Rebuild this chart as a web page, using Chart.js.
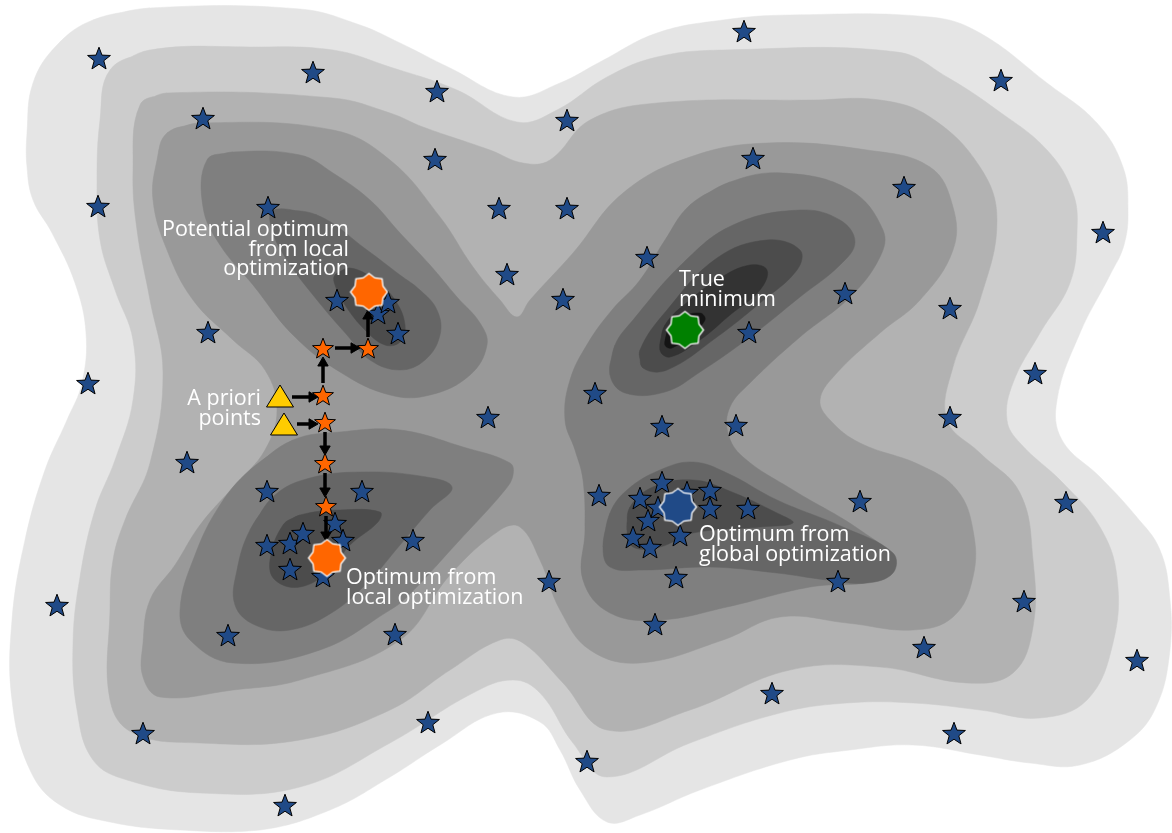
<!DOCTYPE html>
<html>
<head>
<meta charset="utf-8">
<script src="https://cdn.jsdelivr.net/npm/chart.js@4.4.1/dist/chart.umd.min.js"></script>
<style>
  html, body { margin: 0; padding: 0; background: #ffffff; }
  #wrap { width: 1172px; height: 833px; }
</style>
</head>
<body>
<div id="wrap"><canvas id="landscape" width="1172" height="833"></canvas></div>
<script>
// contour outlines of the objective landscape, one array per filled level region
const contourL1 = [[93,20],[150,8],[300,9],[360,25],[400,43],[450,68],[513,97],[560,83],[600,62],[657,33],[723,20],[790,15],[930,17],[980,33],[1047,83],[1097,123],[1123,167],[1128,210],[1124,245],[1110,275],[1080,333],[1057,400],[1062,440],[1100,477],[1135,515],[1160,550],[1170,600],[1170,650],[1157,705],[1130,740],[1080,765],[1030,763],[980,755],[913,745],[850,750],[790,760],[700,790],[640,815],[607,822],[580,790],[560,750],[540,722],[497,713],[440,745],[390,777],[330,810],[260,830],[180,830],[110,822],[60,805],[30,770],[12,700],[12,620],[25,540],[45,470],[67,420],[82,383],[86,333],[75,283],[52,233],[33,200],[27,167],[27,133],[33,83],[57,45]];
const contourL2 = [[110,70],[150,50],[250,47],[333,50],[390,67],[457,90],[517,122],[557,110],[607,77],[657,57],[723,50],[897,52],[947,77],[997,110],[1047,150],[1073,193],[1077,233],[1070,283],[1040,333],[1013,383],[1007,420],[1020,443],[1063,483],[1100,527],[1117,577],[1113,643],[1087,700],[1040,718],[980,710],[913,703],[847,703],[780,713],[690,743],[607,777],[573,743],[540,693],[513,680],[473,693],[390,743],[300,787],[200,793],[127,780],[93,760],[77,710],[73,643],[80,577],[95,510],[115,460],[133,400],[133,340],[115,290],[100,240],[97,180],[100,120]];
const contourL3 = [[140,105],[167,93],[333,98],[390,113],[423,127],[490,150],[523,163],[550,160],[590,120],[657,103],[813,100],[880,100],[930,117],[980,167],[997,220],[980,300],[953,367],[947,420],[980,453],[1020,493],[1033,560],[1033,627],[1013,673],[967,683],[880,667],[790,670],[690,710],[607,730],[563,683],[523,643],[500,640],[450,670],[390,710],[300,740],[200,743],[133,733],[110,700],[110,610],[113,560],[125,520],[150,463],[163,373],[150,300],[137,230],[133,170]];
const contourL4 = [[167,133],[200,123],[333,130],[390,160],[440,217],[473,267],[500,300],[517,317],[530,300],[573,253],[623,193],[690,157],[767,143],[867,150],[930,167],[953,207],[953,250],[920,300],[880,333],[835,375],[820,400],[830,420],[860,443],[920,465],[957,490],[973,530],[973,577],[953,617],[913,630],[847,623],[780,617],[723,640],[640,663],[590,650],[560,610],[540,560],[520,527],[500,530],[450,575],[400,640],[300,680],[233,690],[160,697],[143,677],[143,643],[150,600],[175,565],[200,525],[235,485],[265,450],[277,410],[265,370],[233,340],[193,300],[167,250],[153,200],[157,160]];
const contourL5a = [[207,160],[233,152],[300,155],[333,173],[370,200],[400,233],[430,265],[457,297],[480,323],[487,345],[470,375],[430,395],[390,395],[340,372],[293,335],[253,285],[220,245],[203,207]];
const contourL5b = [[250,470],[293,440],[340,432],[400,430],[463,447],[510,463],[513,475],[505,490],[457,543],[407,597],[390,610],[320,650],[233,663],[190,640],[180,610],[195,555],[220,505]];
const contourL5c = [[690,205],[730,182],[783,173],[850,190],[883,230],[880,257],[850,297],[800,337],[750,383],[730,407],[728,433],[743,457],[793,490],[860,530],[893,560],[877,580],[810,587],[727,607],[660,620],[610,613],[583,580],[585,530],[583,480],[575,450],[565,420],[570,380],[588,343],[612,310],[640,280],[665,240]];
const contourL6a = [[273,210],[317,215],[367,250],[400,275],[420,290],[437,310],[440,335],[425,360],[400,370],[370,360],[347,335],[317,300],[287,260],[272,230]];
const contourL6b = [[250,530],[275,495],[310,478],[360,472],[420,476],[452,487],[430,510],[400,545],[370,580],[333,612],[290,630],[255,625],[235,605],[237,570]];
const contourL6c = [[610,375],[615,345],[633,320],[683,263],[733,225],[800,210],[840,220],[855,242],[840,265],[800,297],[750,337],[700,372],[665,392],[625,393]];
const contourL6d = [[603,547],[610,513],[627,490],[660,470],[693,462],[727,473],[777,500],[843,527],[893,553],[893,573],[867,583],[827,580],[777,573],[710,567],[643,570],[610,567]];
const contourL7a = [[335,275],[350,268],[375,280],[395,300],[405,325],[400,342],[385,345],[365,330],[345,305],[335,285]];
const contourL7b = [[283,525],[300,515],[340,510],[380,512],[378,522],[350,545],[330,570],[300,587],[275,580],[270,560]];
const contourL7c = [[643,368],[640,350],[667,310],[717,258],[767,240],[800,250],[797,270],[760,303],[717,337],[667,370]];
const contourL7d = [[627,530],[630,507],[653,487],[693,480],[727,490],[777,513],[793,523],[760,527],[693,533],[660,547],[633,547]];
const contourL8 = [[660,350],[665,325],[690,300],[720,278],[750,265],[767,270],[760,290],[730,315],[700,340],[670,357]];
const contourL9 = [[665,345],[668,330],[680,318],[700,313],[705,320],[690,335],[672,348]];

// evaluated samples
const blueStars = [[99,58],[313,72],[437,91],[744,31],[1001,80],[203,118],[567,120],[435,159],[753,158],[904,187],
  [98,206],[268,207],[499,208],[567,208],[1103,232],[647,257],[507,274],[563,299],[845,293],[950,308],
  [337,300],[378,313],[388,302],[398,333],[208,332],[749,332],[88,383],[1035,373],[595,393],[488,417],
  [950,417],[662,426],[736,425],[187,462],[267,491],[362,491],[599,495],[860,501],[1066,502],
  [662,482],[640,498],[710,490],[687,492],[710,508],[748,508],[648,520],[633,537],[650,547],[680,535],[658,507],
  [676,577],[655,624],[549,581],[838,581],[1024,601],[924,647],[1137,660],[772,693],[954,733],[587,761],
  [428,722],[395,634],[413,540],[228,635],[143,733],[57,605],[285,805],
  [267,545],[290,543],[303,533],[335,523],[343,540],[290,569],[323,576]];
const localPathStars = [[323,348],[368,348],[323,395],[325,422],[325,463],[326,506]];
const aprioriPoints = [[280,396],[284,424]];
// [tailX, tailY, tipX, tipY]
const stepArrows = [[292,397,318,397],[297,424,318,424],[323,383,323,357],[335,348,360,348],[368,337,368,310],[325,432,325,455],[325,473,325,497],[326,516,326,541]];
const optimaX = [369, 327, 685, 678];
const optimaY = [292, 558, 330, 507];

const labelLines = [['Potential optimum','from local','optimization'], ['True','minimum'], ['A priori','points'], ['Optimum from','local optimization'], ['Optimum from','global optimization']];
const labelX = [349, 679, 261, 346, 699];
const labelY = [230, 280, 399, 578, 535];
const labelAlign = ['right', 'left', 'right', 'left', 'left'];

const levelColors = ['#e5e5e5', '#cccccc', '#b2b2b2', '#999999', '#7f7f7f', '#666666', '#4c4c4c', '#333333', '#141414'];
const contourShapes = [
  [1, contourL1], [2, contourL2], [3, contourL3], [4, contourL4],
  [5, contourL5a], [5, contourL5b], [5, contourL5c],
  [6, contourL6a], [6, contourL6b], [6, contourL6c], [6, contourL6d],
  [7, contourL7a], [7, contourL7b], [7, contourL7c], [7, contourL7d],
  [8, contourL8], [9, contourL9]
];

function makeCanvas(size) {
  const c = document.createElement('canvas');
  c.width = size; c.height = size;
  return c;
}

function starImage(r, fill) {
  const s = Math.ceil(r * 2 + 4);
  const c = makeCanvas(s);
  const g = c.getContext('2d');
  g.translate(s / 2, s / 2 + r * 0.1);
  g.beginPath();
  for (let i = 0; i < 10; i++) {
    const a = -Math.PI / 2 + i * Math.PI / 5;
    const rr = i % 2 ? r * 0.42 : r;
    g.lineTo(Math.cos(a) * rr, Math.sin(a) * rr);
  }
  g.closePath();
  g.fillStyle = fill;
  g.fill();
  g.lineWidth = 1;
  g.strokeStyle = '#000';
  g.stroke();
  return c;
}

function burstImage(r, fill) {
  const s = Math.ceil(r * 2 + 4);
  const c = makeCanvas(s);
  const g = c.getContext('2d');
  g.translate(s / 2, s / 2);
  g.beginPath();
  for (let i = 0; i < 16; i++) {
    const a = -Math.PI / 2 + i * Math.PI / 8;
    const rr = i % 2 ? r * 0.82 : r;
    g.lineTo(Math.cos(a) * rr, Math.sin(a) * rr);
  }
  g.closePath();
  g.fillStyle = fill;
  g.fill();
  g.lineWidth = 1.3;
  g.strokeStyle = '#ffffff';
  g.stroke();
  return c;
}

function triangleImage() {
  const c = makeCanvas(32);
  const g = c.getContext('2d');
  g.translate(16, 16);
  g.beginPath();
  g.moveTo(0, -11);
  g.lineTo(13.5, 11);
  g.lineTo(-13.5, 11);
  g.closePath();
  g.fillStyle = '#ffcc00';
  g.fill();
  g.lineWidth = 1;
  g.strokeStyle = '#000';
  g.stroke();
  return c;
}

const toXY = (arr) => arr.map(([x, y]) => ({ x, y }));

const datasets = [];

contourShapes.forEach(([level, pts]) => {
  datasets.push({
    data: toXY(pts.concat([pts[0], pts[1]])),
    showLine: true,
    fill: 'shape',
    backgroundColor: levelColors[level - 1],
    borderColor: levelColors[level - 1],
    borderWidth: 0.5,
    tension: 0.4,
    pointRadius: 0,
    order: 100 - level
  });
});

datasets.push({
  data: toXY(blueStars),
  pointStyle: starImage(12, '#204a87'),
  pointRadius: 12,
  order: 20
});

stepArrows.forEach(([x1, y1, x2, y2]) => {
  const len = Math.hypot(x2 - x1, y2 - y1);
  const ux = (x2 - x1) / len, uy = (y2 - y1) / len;
  const head = 6;
  const angle = Math.atan2(uy, ux) * 180 / Math.PI + 90;
  datasets.push({
    data: [{ x: x1, y: y1 }, { x: x2 - ux * head, y: y2 - uy * head }],
    showLine: true,
    borderColor: '#000000',
    borderWidth: 3.5,
    tension: 0,
    fill: false,
    pointRadius: [0, head],
    pointStyle: 'triangle',
    pointRotation: [0, angle],
    pointBackgroundColor: '#000000',
    pointBorderColor: '#000000',
    pointBorderWidth: 1,
    order: 16
  });
});

datasets.push({
  data: toXY(localPathStars),
  pointStyle: starImage(11, '#ff6600'),
  pointRadius: 11,
  order: 14
});

datasets.push({
  data: toXY(aprioriPoints),
  pointStyle: triangleImage(),
  pointRadius: 12,
  order: 12
});

datasets.push({
  data: optimaX.map((x, i) => ({ x, y: optimaY[i] })),
  pointStyle: [burstImage(18.5, '#ff6600'), burstImage(18.5, '#ff6600'), burstImage(18.5, '#008000'), burstImage(18.5, '#204a87')],
  pointRadius: 18,
  order: 10
});

const labelPlugin = {
  id: 'landscapeLabels',
  afterDatasetsDraw(chart) {
    const { ctx, scales } = chart;
    ctx.save();
    ctx.fillStyle = '#ffffff';
    ctx.font = '21.5px "Open Sans", "DejaVu Sans", sans-serif';
    ctx.textBaseline = 'middle';
    labelLines.forEach((lines, i) => {
      ctx.textAlign = labelAlign[i];
      lines.forEach((txt, j) => {
        ctx.fillText(txt, scales.x.getPixelForValue(labelX[i]), scales.y.getPixelForValue(labelY[i] + j * 19.5));
      });
    });
    ctx.restore();
  }
};

new Chart(document.getElementById('landscape'), {
  type: 'scatter',
  data: { datasets },
  options: {
    responsive: false,
    animation: false,
    layout: { padding: 0, autoPadding: false },
    plugins: { legend: { display: false }, tooltip: { enabled: false } },
    scales: {
      x: { type: 'linear', min: 0, max: 1172, display: false },
      y: { type: 'linear', min: 0, max: 833, reverse: true, display: false }
    }
  },
  plugins: [labelPlugin]
});
</script>
</body>
</html>
